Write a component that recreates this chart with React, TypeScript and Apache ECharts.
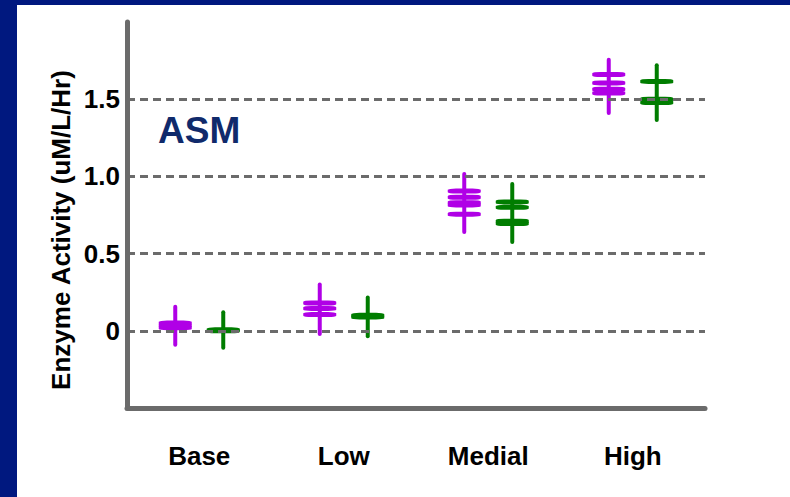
import { useEffect, useRef } from 'react';
import * as echarts from 'echarts';

// Dose groups along the x axis
const categories = ['Base', 'Low', 'Medial', 'High'];

// Gridline / tick values on the y axis
const yTicks = [0, 0.5, 1.0, 1.5];

// Individual measurements per group (uM/L/Hr)
const purpleBase = [0.02, 0.035, 0.05];
const purpleLow = [0.18, 0.145, 0.105];
const purpleMedial = [0.905, 0.865, 0.83, 0.815, 0.755];
const purpleHigh = [1.66, 1.605, 1.565, 1.54];

const greenBase = [0.0, 0.006];
const greenLow = [0.09, 0.1];
const greenMedial = [0.835, 0.8, 0.71, 0.695];
const greenHigh = [1.615, 1.5, 1.478];

// Error bar extents per group (low, high)
const purpleLow95 = [-0.09, -0.02, 0.64, 1.41];
const purpleHigh95 = [0.155, 0.3, 1.015, 1.755];
const greenLow95 = [-0.11, -0.035, 0.575, 1.365];
const greenHigh95 = [0.12, 0.215, 0.95, 1.72];

const PURPLE = '#b000e6';
const GREEN = '#007d00';
const AXIS_GREY = '#6b6b6b';
const FONT = '"Liberation Sans", Arial, Helvetica, sans-serif';
const DODGE = 24;

const toPoints = (groups: number[][]) =>
  groups.flatMap((vals, i) => vals.map((v) => [i, v]));

const toRanges = (lo: number[], hi: number[]) => lo.map((l, i) => [i, l, hi[i]]);

const errorBarSeries = (name: string, data: number[][], color: string, offset: number) => ({
  name,
  type: 'custom',
  data,
  encode: { x: 0, y: [1, 2] },
  z: 3,
  silent: true,
  renderItem: (_params: any, api: any) => {
    const idx = api.value(0);
    const a = api.coord([idx, api.value(1)]);
    const b = api.coord([idx, api.value(2)]);
    return {
      type: 'line',
      shape: { x1: a[0] + offset, y1: a[1], x2: b[0] + offset, y2: b[1] },
      style: { stroke: color, lineWidth: 4, lineCap: 'round' },
    };
  },
});

const pointSeries = (name: string, data: number[][], color: string, offset: number) => ({
  name,
  type: 'scatter',
  data,
  symbol: 'roundRect',
  symbolSize: [33, 5],
  symbolOffset: [offset, 0],
  itemStyle: { color, opacity: 1 },
  z: 4,
  silent: true,
});

export default function App() {
  const ref = useRef<HTMLDivElement>(null);

  useEffect(() => {
    if (!ref.current) return;
    const chart = echarts.init(ref.current, undefined, { renderer: 'svg' });

    chart.setOption({
      animation: false,
      backgroundColor: '#ffffff',
      grid: { left: 127, right: 85, top: 22, bottom: 89 },
      xAxis: {
        type: 'category',
        data: categories,
        boundaryGap: true,
        axisLine: { onZero: false, lineStyle: { color: AXIS_GREY, width: 5 } },
        axisTick: {
          alignWithLabel: true,
          length: 13,
          lineStyle: { color: AXIS_GREY, width: 4 },
        },
        axisLabel: {
          margin: 35,
          color: '#000',
          fontFamily: FONT,
          fontWeight: 'bold',
          fontSize: 26,
        },
        splitLine: { show: false },
      },
      yAxis: {
        type: 'value',
        min: -0.5,
        max: 2.0,
        interval: 0.5,
        axisLine: { show: true, lineStyle: { color: AXIS_GREY, width: 5 } },
        axisTick: { show: false },
        axisLabel: {
          margin: 7,
          color: '#000',
          fontFamily: FONT,
          fontWeight: 'bold',
          fontSize: 26,
          formatter: (v: number) =>
            yTicks.includes(v) ? (v === 0 ? '0' : v.toFixed(1)) : '',
        },
        splitLine: { show: false },
      },
      graphic: [
        { type: 'rect', shape: { x: 0, y: 0, width: 790, height: 5 }, style: { fill: '#00187f' } },
        { type: 'rect', shape: { x: 0, y: 0, width: 17, height: 497 }, style: { fill: '#00187f' } },
        {
          type: 'text',
          x: 158,
          y: 130,
          style: {
            text: 'ASM',
            fill: '#102a6b',
            fontFamily: FONT,
            fontWeight: 'bold',
            fontSize: 37,
            align: 'left',
            verticalAlign: 'middle',
          },
        },
        {
          type: 'text',
          x: 61,
          y: 230,
          rotation: Math.PI / 2,
          style: {
            text: 'Enzyme Activity (uM/L/Hr)',
            fill: '#000',
            fontFamily: FONT,
            fontWeight: 'bold',
            fontSize: 26,
            align: 'center',
            verticalAlign: 'middle',
          },
        },
      ],
      series: [
        {
          name: 'grid',
          type: 'line',
          data: [],
          silent: true,
          z: 1,
          markLine: {
            silent: true,
            symbol: 'none',
            label: { show: false },
            lineStyle: { color: AXIS_GREY, width: 3, type: [8, 5] },
            data: yTicks.map((v) => ({ yAxis: v })),
          },
        },
        errorBarSeries('purple range', toRanges(purpleLow95, purpleHigh95), PURPLE, -DODGE),
        errorBarSeries('green range', toRanges(greenLow95, greenHigh95), GREEN, DODGE),
        pointSeries(
          'purple',
          toPoints([purpleBase, purpleLow, purpleMedial, purpleHigh]),
          PURPLE,
          -DODGE
        ),
        pointSeries(
          'green',
          toPoints([greenBase, greenLow, greenMedial, greenHigh]),
          GREEN,
          DODGE
        ),
      ],
    });

    return () => chart.dispose();
  }, []);

  return (
    <div
      ref={ref}
      style={{ position: 'fixed', left: 0, top: 0, width: 790, height: 497 }}
    />
  );
}
